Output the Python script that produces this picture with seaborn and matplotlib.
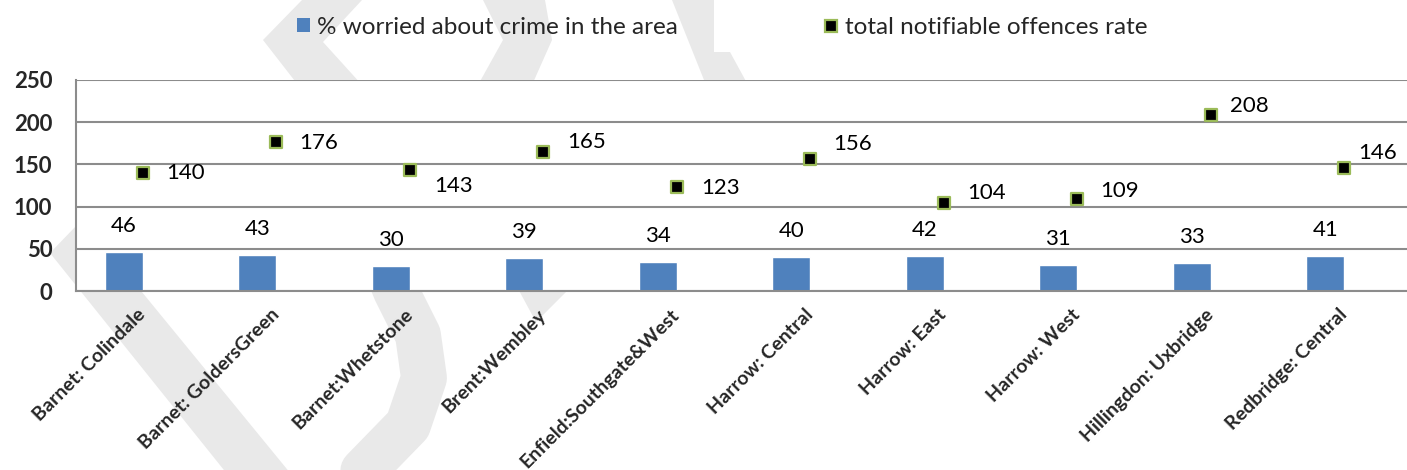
import numpy as np
import pandas as pd
import matplotlib
matplotlib.use('Agg')
import matplotlib.pyplot as plt
from matplotlib.patches import Patch, Polygon
from matplotlib.lines import Line2D
import seaborn as sns

areas = ['Barnet: Colindale', 'Barnet: GoldersGreen', 'Barnet:Whetstone', 'Brent:Wembley',
         'Enfield:Southgate&West', 'Harrow: Central', 'Harrow: East', 'Harrow: West',
         'Hillingdon: Uxbridge', 'Redbridge: Central']
worried = [46, 43, 30, 39, 34, 40, 42, 31, 33, 41]
offences = [140, 176, 143, 165, 123, 156, 104, 109, 208, 146]
series_names = ['% worried about crime in the area', 'total notifiable offences rate']

# label nudges (pixels) for the offence labels, as placed in the original
lab_dx = [23, 23, 24, 24, 24, 23, 23, 23, 19, 14]
lab_dy = [0, -1, -16, 10, -1, 15, 10, 8, 9, 15]

W, H = 1407, 470
bar_col = '#4F81BD'
grid_col = '#8C8C8C'

sns.set_style('white')
plt.rcParams['font.family'] = ['Lato', 'DejaVu Sans']

fig = plt.figure(figsize=(W / 100, H / 100), dpi=100)


def px(pts):
    return [(x / W, 1 - y / H) for x, y in pts]


# light grey watermark pieces peeking out around the plot area
wm = '#E9E9E9'
cx = [375, 396, 418, 424, 408, 372, 335, 310]
cy = [240, 291, 335, 378, 425, 462, 500, 530]
fig.add_artist(Line2D([x / W for x in cx], [1 - y / H for y in cy], color=wm, lw=33,
                      solid_joinstyle='round', transform=fig.transFigure, zorder=-2))
for poly in [[(50, 253), (130, 170), (190, 170), (110, 253), (345, 540), (280, 540)],
             [(516, 285), (573, 285), (536, 322)],
             [(302, 0), (362, 0), (323, 42), (362, 85), (298, 85), (263, 40)],
             [(483, 0), (545, 0), (552, 40), (532, 85), (478, 85), (503, 40)],
             [(672, 0), (714, 0), (714, 52), (730, 52), (748, 85), (706, 85)]]:
    fig.add_artist(Polygon(px(poly), closed=True, facecolor=wm, edgecolor='none',
                           transform=fig.transFigure, zorder=-2))

ax = fig.add_axes([76 / W, 179 / H, 1335 / W, 211 / H])
ax.set_facecolor('white')

df = pd.DataFrame({'area': areas, 'worried': worried, 'offences': offences})

bw = 0.285
sns.barplot(data=df, x='area', y='worried', color=bar_col, saturation=1, width=bw, ax=ax, zorder=2)
# bars sit just left of the category centre
for p in ax.patches:
    p.set_x(p.get_x() - p.get_width() / 2)

sns.scatterplot(data=df, x='area', y='offences', marker='s', s=75, color='black',
                edgecolor='#9BBB59', linewidth=1.6, ax=ax, zorder=4, clip_on=False)

for i, v in enumerate(worried):
    ax.annotate(str(v), (i - bw / 2, v), xytext=(0, 26 * 0.72), textcoords='offset points',
                ha='center', va='center', fontsize=16, color='black')
for i, v in enumerate(offences):
    ax.annotate(str(v), (i, v), xytext=(lab_dx[i] * 0.72, lab_dy[i] * 0.72),
                textcoords='offset points', ha='left', va='center', fontsize=16,
                color='black', annotation_clip=False)

ax.set_xlim(-0.5, 9.5)
ax.set_ylim(0, 250)
ax.set_yticks(range(0, 251, 50))
ax.yaxis.grid(True, color=grid_col, linewidth=1.5)
ax.set_axisbelow(True)
for s in ['top', 'right']:
    ax.spines[s].set_visible(False)
for s in ['left', 'bottom']:
    ax.spines[s].set_color(grid_col)
    ax.spines[s].set_linewidth(1.5)

ax.set_xticks(np.arange(-0.5, 10, 1))
ax.set_xticklabels([])
ax.set_xticks(np.arange(10), minor=True)
ax.set_xticklabels(areas, minor=True, rotation=45, ha='right', va='center',
                   rotation_mode='anchor', fontsize=14, fontweight='bold')
ax.tick_params(axis='x', which='major', length=5, width=1.5, color=grid_col, direction='out')
ax.tick_params(axis='x', which='minor', length=0, pad=15)
ax.tick_params(axis='y', length=6, width=1.5, color=grid_col, direction='out', pad=11,
               labelsize=16)
for t in ax.get_yticklabels():
    t.set_fontweight('bold')
ax.set_xlabel('')
ax.set_ylabel('')

handles = [Patch(facecolor=bar_col, edgecolor='none'),
           Line2D([], [], marker='s', ls='', markersize=9, markerfacecolor='black',
                  markeredgecolor='#9BBB59', markeredgewidth=1.6)]
fig.legend(handles, series_names, loc='center', bbox_to_anchor=(722 / W, 1 - 27 / H), ncol=2,
           frameon=False, fontsize=17.5, handlelength=0.55, handleheight=0.55, handletextpad=0.3,
           columnspacing=6.0)

fig.savefig('out.png', dpi=100)
